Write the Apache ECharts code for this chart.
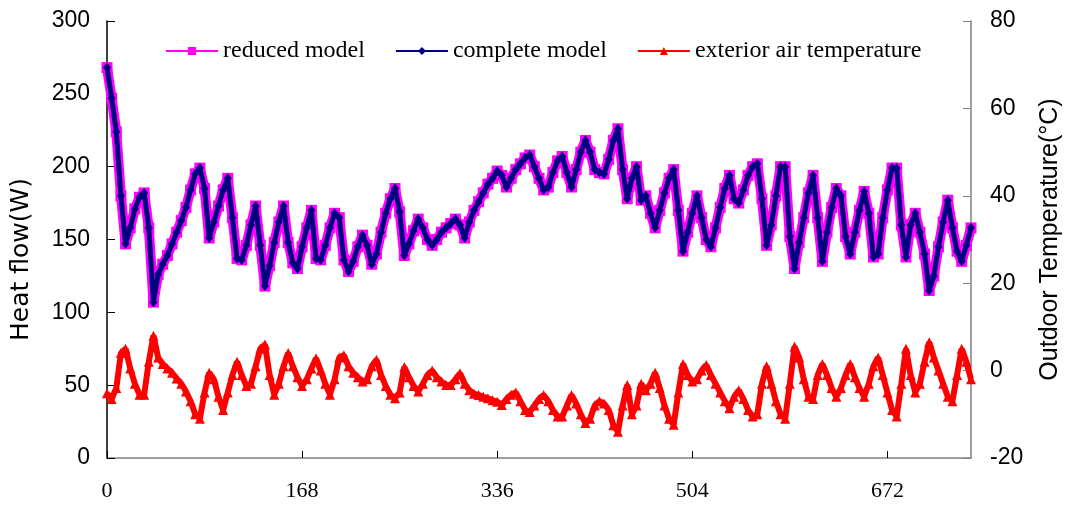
<!DOCTYPE html>
<html>
<head>
<meta charset="utf-8">
<script src="https://cdn.jsdelivr.net/npm/echarts@6/dist/echarts.min.js"></script>
<style>
  html, body { margin: 0; padding: 0; background: #fff; }
  #chart { width: 1071px; height: 507px; }
</style>
</head>
<body>
<div id="chart"></div>
<script>
// sample times, every 4 hours over 31 days
const hours = []
for (let h = 0; h <= 744; h += 4) hours.push(h)

// heat flow (W), one row per day; reduced and complete model overlap
const heatFlow = [
  268, 247, 224, 180, 147, 158,
  171, 179, 182, 158, 107, 126,
  133, 139, 147, 155, 163, 172,
  184, 195, 199, 185, 151, 162,
  173, 184, 192, 165, 137, 136,
  146, 160, 173, 146, 118, 132,
  148, 162, 173, 148, 134, 130,
  145, 158, 170, 137, 136, 146,
  158, 168, 165, 136, 128, 135,
  145, 153, 146, 133, 140, 155,
  168, 178, 185, 169, 139, 147,
  156, 164, 158, 150, 146, 150,
  155, 158, 161, 164, 160, 151,
  162, 170, 176, 182, 188, 192,
  197, 194, 186, 192, 198, 202,
  206, 208, 200, 192, 184, 186,
  196, 204, 207, 196, 186, 198,
  210, 218, 210, 198, 196, 195,
  205, 218, 226, 198, 178, 192,
  200, 177, 180, 168, 158, 170,
  182, 192, 198, 170, 142, 155,
  168, 180, 165, 150, 145, 158,
  172, 185, 194, 178, 175, 184,
  194, 200, 202, 178, 146, 160,
  180, 200, 200, 152, 130, 148,
  165, 182, 194, 165, 135, 155,
  172, 185, 180, 152, 140, 155,
  170, 183, 168, 138, 140, 165,
  184, 199, 199, 160, 138, 160,
  168, 155, 140, 115, 125, 145,
  162, 177, 158, 142, 135, 146,
  158
]

// exterior air temperature (°C)
const airTemp = [
  -5.2, -6.5, -4, 4, 5, 0.5,
  -3, -5.5, -5.5, 2, 8, 3,
  1.5, 0.5, -0.5, -1.8, -3, -4.8,
  -7, -10, -11, -5, -0.5, -2,
  -6, -9, -5, -1, 2, -1,
  -3.5, -3, 1, 5, 6, -1,
  -5.5, -3, 1, 4, 1, -1.5,
  -3.5, -2, 0.5, 2.8, 0, -3,
  -5.5, -2, 3, 3.5, 1, -0.5,
  -1.5, -2.5, -2, 1, 2.5, -1,
  -3.5, -5.5, -6.3, -5, 0.8, -1.5,
  -3.5, -4.8, -3, -1, 0, -1.5,
  -2.5, -3.3, -3.3, -2, -0.6, -3,
  -4.5, -5.3, -5.6, -6, -6.3, -6.8,
  -7.1, -7.9, -6.5, -5.5, -5, -7,
  -9, -9.5, -8, -6.5, -5.6, -7,
  -9, -10.5, -10.5, -8, -5.6, -7.5,
  -10, -12, -11, -8, -7, -7.5,
  -9, -12.5, -14, -8, -3.3, -10,
  -8, -3, -4.5, -3, -0.5, -4,
  -8, -11, -12.4, -5, 1.5, -1,
  -2.5, -2, 0, 1.3, -1, -3,
  -5, -7, -8.6, -6, -4.5, -6.5,
  -9, -10.5, -10, -3, 1, -3,
  -7, -10, -11, -3, 5.5, 3,
  -2, -6, -6.5, -1, 1.5, -1,
  -4, -6, -4, -1, 1.5, -1.5,
  -4, -6, -3, 1, 3, -1,
  -5, -9, -10.5, -3, 5, -1,
  -5, -3, 2, 6.5, 3, 0,
  -3, -6, -7, -1, 5, 2,
  -2
]

const xTicks = [0, 168, 336, 504, 672]

const pair = (ys) => hours.map((h, i) => [h, ys[i]])

const chart = echarts.init(document.getElementById('chart'))

const sansAxis = {
  color: '#000',
  fontFamily: 'Liberation Sans, Arial, sans-serif',
  fontSize: 23
}

chart.setOption({
  animation: false,
  backgroundColor: '#fff',
  grid: {
    left: 107,
    right: 95,
    top: 21,
    bottom: 49
  },
  legend: {
    left: 160,
    top: 34,
    itemWidth: 52,
    itemHeight: 10,
    itemGap: 30,
    lineStyle: { width: 2 },
    textStyle: {
      color: '#000',
      fontFamily: 'Liberation Serif, Times New Roman, serif',
      fontSize: 24
    },
    data: ['reduced model', 'complete model', 'exterior air temperature']
  },
  xAxis: {
    type: 'value',
    min: 0,
    max: 744,
    interval: 168,
    splitLine: { show: false },
    axisLine: { lineStyle: { color: '#808080', width: 1.5 } },
    axisTick: { inside: true, length: 7, lineStyle: { color: '#000' } },
    axisLabel: {
      showMaxLabel: false,
      margin: 22,
      color: '#000',
      fontFamily: 'Liberation Serif, Times New Roman, serif',
      fontSize: 22,
      formatter: (v) => (xTicks.includes(v) ? String(v) : '')
    }
  },
  yAxis: [
    {
      type: 'value',
      min: 0,
      max: 300,
      interval: 50,
      name: 'Heat flow(W)',
      nameLocation: 'middle',
      nameGap: 73,
      nameTextStyle: {
        color: '#000',
        fontFamily: 'DejaVu Sans, sans-serif',
        fontSize: 25,
        padding: [0, 40, 0, 0]
      },
      splitLine: { show: false },
      axisLine: { show: true, lineStyle: { color: '#000', width: 1.5 } },
      axisTick: { inside: true, length: 8, lineStyle: { color: '#000' } },
      axisLabel: Object.assign({ margin: 17 }, sansAxis)
    },
    {
      type: 'value',
      min: -20,
      max: 80,
      interval: 20,
      name: 'Outdoor Temperature(°C)',
      nameLocation: 'middle',
      nameRotate: 90,
      nameGap: 67,
      nameTextStyle: Object.assign({}, sansAxis, { fontSize: 25 }),
      splitLine: { show: false },
      axisLine: { show: true, lineStyle: { color: '#808080', width: 1.5 } },
      axisTick: { inside: true, length: 8, lineStyle: { color: '#808080' } },
      axisLabel: Object.assign({ margin: 19 }, sansAxis)
    }
  ],
  series: [
    {
      name: 'reduced model',
      type: 'line',
      data: pair(heatFlow),
      symbol: 'rect',
      symbolSize: 11,
      showAllSymbol: true,
      itemStyle: { color: '#FF00FF' },
      lineStyle: { color: '#FF00FF', width: 10 },
      z: 2
    },
    {
      name: 'complete model',
      type: 'line',
      data: pair(heatFlow),
      symbol: 'diamond',
      symbolSize: [8, 10],
      showAllSymbol: true,
      itemStyle: { color: '#000080' },
      lineStyle: { color: '#000080', width: 5 },
      z: 3
    },
    {
      name: 'exterior air temperature',
      type: 'line',
      yAxisIndex: 1,
      data: pair(airTemp),
      symbol: 'triangle',
      symbolSize: 10,
      showAllSymbol: true,
      itemStyle: { color: '#FF0000' },
      lineStyle: { color: '#FF0000', width: 6 },
      z: 4
    }
  ]
})
</script>
</body>
</html>
